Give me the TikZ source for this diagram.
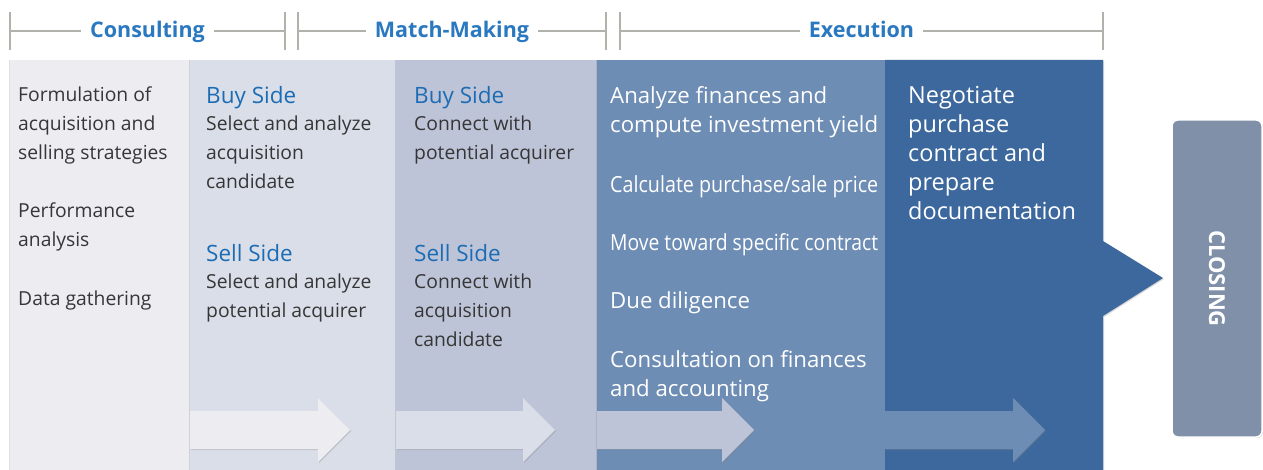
\documentclass[tikz,border=0pt]{standalone}
\usepackage{fontspec}
\usepackage{graphicx}
\setmainfont{Open Sans}
\usetikzlibrary{positioning, shadows}

\definecolor{phaseA}{HTML}{EDECF1}
\definecolor{phaseB}{HTML}{D9DEE8}
\definecolor{phaseC}{HTML}{BEC4D7}
\definecolor{phaseD}{HTML}{6E8DB4}
\definecolor{phaseE}{HTML}{3D689D}
\definecolor{closingfill}{HTML}{7F90A8}
\definecolor{rulegray}{HTML}{B2B2AC}
\definecolor{headblue}{HTML}{2A78BF}
\definecolor{sideblue}{HTML}{1B6CB4}
\definecolor{bodygray}{HTML}{363636}

\newcommand{\sidehead}[1]{{\color{sideblue}\fontsize{22.5}{29}\selectfont #1}}
\newcommand{\squeezed}[1]{\resizebox{268pt}{\height}{#1}}

\tikzset{
	bracket/.style={draw=rulegray, line width=2.5pt},
	phasehead/.style={anchor=base, fill=white, text=headblue, inner xsep=9pt, inner ysep=2pt, font=\bfseries\fontsize{21.5}{24}\selectfont},
	column/.style={anchor=north west, minimum height=410pt, inner sep=0pt, draw=none,
		drop shadow={shadow xshift=-1pt, shadow yshift=0pt, opacity=0.25}},
	flow/.style={drop shadow={shadow xshift=1pt, shadow yshift=-1pt, opacity=0.3}},
	bodytext/.style={anchor=north west, yshift=20.3pt, align=left, inner sep=0pt, text=bodygray, font=\fontsize{19.3}{29}\selectfont},
	whitetext/.style={bodytext, text=white, font=\fontsize{22.2}{29}\selectfont},
}

\begin{document}
\begin{tikzpicture}[x=1pt, y=-1pt]
	\def\yTOP{60};
	\def\yBOT{470};

	\useasboundingbox (0,0) rectangle (1263,470);
	\fill[white] (0,0) rectangle (1263,470);

	% phase brackets
	\foreach \a/\b/\t/\n in {10/285/Consulting/cons, 298/606/Match-Making/match, 620/1103/Execution/exec} {
		\draw[bracket] (\a,12) -- (\a,50);
		\draw[bracket] (\b,12) -- (\b,50);
		\draw[bracket] (\a,31) -- (\b,31);
		\node[phasehead] (hdr\n) at ({(\a+\b)/2},37.5) {\t};
	}

	% columns
	\node[column, fill=phaseA, minimum width=180pt] (colA) at (10,\yTOP) {};
	\node[column, fill=phaseB, minimum width=206pt] (colB) at (190,\yTOP) {};
	\node[column, fill=phaseC, minimum width=202pt] (colC) at (396,\yTOP) {};
	\node[column, fill=phaseD, minimum width=289pt] (colD) at (597,\yTOP) {};
	\fill[phaseE, flow] (885,\yTOP) -- (1103,\yTOP) -- (1103,241) -- (1163,278)
		-- (1103,316) -- (1103,\yBOT) -- (885,\yBOT) -- cycle;

	% flow arrows
	\foreach \c/\s/\h in {phaseA/190/318, phaseB/396/523, phaseC/597/722, phaseD/885/1013} {
		\fill[\c, flow] (\s,411) -- (\h,411) -- (\h,398) -- (\h+32,430)
			-- (\h,462) -- (\h,449) -- (\s,449) -- cycle;
	}

	% closing
	\node[rotate=-90, rounded corners=6pt, fill=closingfill, draw=white, line width=1.5pt,
		minimum width=317pt, minimum height=90pt, text=white,
		font=\bfseries\fontsize{22}{24}\selectfont,
		drop shadow={shadow xshift=1pt, shadow yshift=-1pt, opacity=0.3}] (closing) at (1217,278.5) {CLOSING};

	% texts
	\node[bodytext] (strategy) at (18,101) {\strut Formulation of\\acquisition and\\selling strategies};
	\node[bodytext] (perform) at (18,217) {\strut Performance\\analysis};
	\node[bodytext] (gather) at (18,305) {\strut Data gathering};

	\node[bodytext] (buyB) at (206,103) {\strut\sidehead{Buy Side}\\[-2pt]Select and analyze\\acquisition\\candidate};
	\node[bodytext] (sellB) at (206,261) {\strut\sidehead{Sell Side}\\[-2pt]Select and analyze\\potential acquirer};

	\node[bodytext] (buyC) at (414,103) {\strut\sidehead{Buy Side}\\[-2pt]Connect with\\potential acquirer};
	\node[bodytext] (sellC) at (414,261) {\strut\sidehead{Sell Side}\\[-2pt]Connect with\\acquisition\\candidate};

	\node[whitetext] (finance) at (610,103) {\strut Analyze finances and\\compute investment yield};
	\node[whitetext] (price) at (610,192) {\strut\squeezed{Calculate purchase/sale price}};
	\node[whitetext] (contract) at (610,250) {\strut\squeezed{Move toward specific contract}};
	\node[whitetext] (diligence) at (610,308) {\strut Due diligence};
	\node[whitetext] (account) at (610,367) {\strut Consultation on finances\\and accounting};

	\node[whitetext, font=\fontsize{23.5}{29}\selectfont] (negotiate) at (908,103) {\strut Negotiate\\purchase\\contract and\\prepare\\documentation};
\end{tikzpicture}
\end{document}
